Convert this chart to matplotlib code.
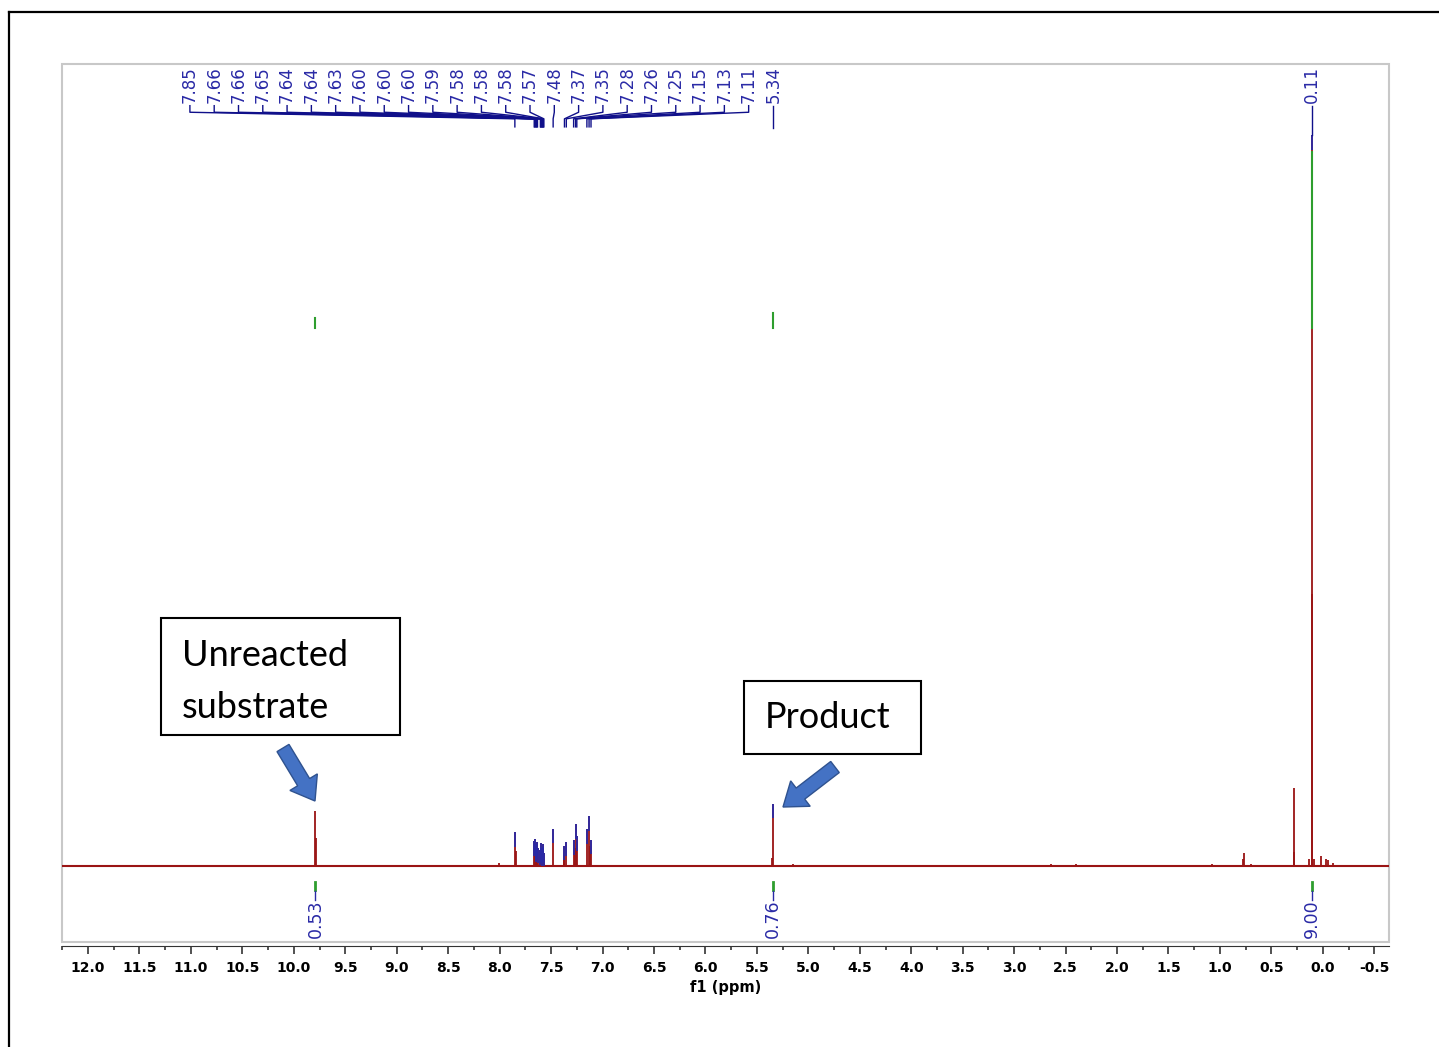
#1H NMR spectrum of the crude reaction mixture
#peak picking on top, integrals below the baseline

import numpy as np
import matplotlib
matplotlib.use('Agg')
import matplotlib.pyplot as plt
from matplotlib.patches import Rectangle, FancyArrow
from matplotlib.lines import Line2D
from matplotlib.transforms import Affine2D
from matplotlib.ticker import MultipleLocator, FormatStrFormatter

#picked peaks (ppm, intensity, TMS = 100)
picked_ppm = [7.852, 7.664, 7.658, 7.651, 7.644, 7.638, 7.632, 7.604, 7.600,
              7.596, 7.590, 7.584, 7.580, 7.576, 7.570, 7.480, 7.370, 7.352,
              7.281, 7.262, 7.250, 7.152, 7.131, 7.112, 5.340, 0.110]
picked_int = [4.6, 3.4, 3.7, 2.6, 3.0, 3.3, 2.4, 2.2, 3.1,
              2.5, 2.0, 2.4, 3.0, 2.6, 1.8, 5.1, 2.8, 3.3,
              3.5, 5.7, 4.1, 5.0, 6.8, 3.6, 8.5, 100.0]

#other lines of the spectrum (not picked)
other_ppm = [9.793, 9.787, 8.010, 7.845, 7.372, 7.268, 7.125, 5.355, 5.150,
             2.640, 2.400, 1.080, 0.775, 0.765, 0.700, 0.284, 0.278,
             0.106, 0.130, 0.090, 0.020, -0.030, -0.050, -0.100]
other_int = [7.5, 3.8, 0.35, 2.0, 1.5, 2.5, 2.8, 1.1, 0.3,
             0.25, 0.25, 0.3, 0.9, 1.8, 0.3, 1.9, 10.7,
             37.2, 1.0, 1.0, 1.3, 1.0, 0.8, 0.35]

#integrals
integ_ppm = [9.79, 5.34, 0.11]
integ_val = [0.53, 0.76, 9.00]

red = '#9a1414'
blue = '#2a2aa6'
green = '#2e9e2e'
lab_font = ['Liberation Sans Narrow', 'DejaVu Sans']

W, H = 1439, 1047
fig = plt.figure(figsize=(W/100, H/100), dpi=100)
px = Affine2D().scale(1/W, -1/H).translate(0, 1) + fig.transFigure

ax = fig.add_axes([62/W, 1-942/H, (1389-62)/W, (942-64)/H])
ax.set_xlim(12.253, -0.643)
ax.set_ylim(-10.40, 109.7)

#spectrum
ax.axhline(0, color=red, lw=1.5, zorder=2)
ax.vlines(other_ppm, 0, other_int, color=red, lw=1.3, zorder=2)
ax.vlines(picked_ppm, 0, picked_int, color=red, lw=1.3, zorder=2)
tip = np.maximum(np.array(picked_int)-2.0, 0)
ax.vlines(picked_ppm, tip, picked_int, color=blue, lw=1.3, zorder=3)

#peak labels: fanned for the aromatic multiplets, straight for the singlets
fan = [p for p in picked_ppm if p > 7.0]
fan_x = np.linspace(11.01, 5.58, len(fan))
for xl, xp in zip(fan_x, fan):
    ax.plot([xl, xl, xp, xp], [104.0, 103.1, 102.2, 101.1], color='#10108a',
            lw=1.0, zorder=3)
    ax.text(xl, 104.4, '%.2f' % xp, rotation=90, ha='center', va='bottom',
            color=blue, fontsize=12)
for p, h in zip(picked_ppm, picked_int):
    if p > 7.0:
        continue
    end = h if h > 50 else 101.0
    ax.plot([p, p], [103.9, end], color='#10108a', lw=1.0, zorder=3)
    ax.text(p, 104.4, '%.2f' % p, rotation=90, ha='center', va='bottom',
            color=blue, fontsize=12)

#integral curves and values
base = 73.6
for p, v in zip(integ_ppm, integ_val):
    ax.plot([p, p], [base, base + 2.67*v], color=green, lw=1.5, zorder=4)
    ax.plot([p, p], [-2.2, -3.3], color=green, lw=2.0)
    ax.plot([p, p], [-3.4, -4.7], color=blue, lw=1.0)
    ax.text(p, -4.6, '%.2f' % v, rotation=90, ha='center', va='top',
            color=blue, fontsize=12.5)

#frame and ppm axis
ax.add_patch(Rectangle((0, 0), 1, 1, transform=ax.transAxes, fill=False,
                       ec='#c8c8c8', lw=1.5, clip_on=False))
for s in ['left', 'right', 'top']:
    ax.spines[s].set_visible(False)
ax.spines['bottom'].set_position(('outward', 3))
ax.spines['bottom'].set_color('#333333')
ax.set_yticks([])
ax.xaxis.set_major_locator(MultipleLocator(0.5))
ax.xaxis.set_minor_locator(MultipleLocator(0.25))
ax.xaxis.set_major_formatter(FormatStrFormatter('%.1f'))
ax.tick_params(axis='x', which='major', length=6, width=1.2, color='#333333', pad=5)
ax.tick_params(axis='x', which='minor', length=3, width=1.2, color='#333333')
for t in ax.get_xticklabels():
    t.set_family(lab_font)
    t.set_fontweight('bold')
    t.set_fontsize(10)
ax.set_xlabel('f1 (ppm)', fontsize=10.5, family=lab_font, fontweight='bold',
              labelpad=3)

#callouts
fig.add_artist(Rectangle((161, 618), 239, 117, transform=px, fc='white',
                         ec='black', lw=1.5))
fig.text(182, 655, 'Unreacted', transform=px, va='center', fontsize=26, family='Lato')
fig.text(182, 708, 'substrate', transform=px, va='center', fontsize=26, family='Lato')
fig.add_artist(Rectangle((744, 681), 177, 73, transform=px, fc='white',
                         ec='black', lw=1.5))
fig.text(765, 717, 'Product', transform=px, va='center', fontsize=26, family='Lato')

for (x0, y0), (x1, y1) in [((283, 748), (315, 801)), ((835, 767), (783, 807))]:
    fig.add_artist(FancyArrow(x0, y0, x1-x0, y1-y0, width=14, head_width=32,
                              head_length=22, length_includes_head=True,
                              transform=px, fc='#4472c4', ec='#2f528f', lw=1))

#outer frame
fig.add_artist(Line2D([9, W], [12, 12], transform=px, color='black', lw=1.6))
fig.add_artist(Line2D([9, 9], [12, H], transform=px, color='black', lw=1.6))

plt.savefig('out.png', dpi=100)
